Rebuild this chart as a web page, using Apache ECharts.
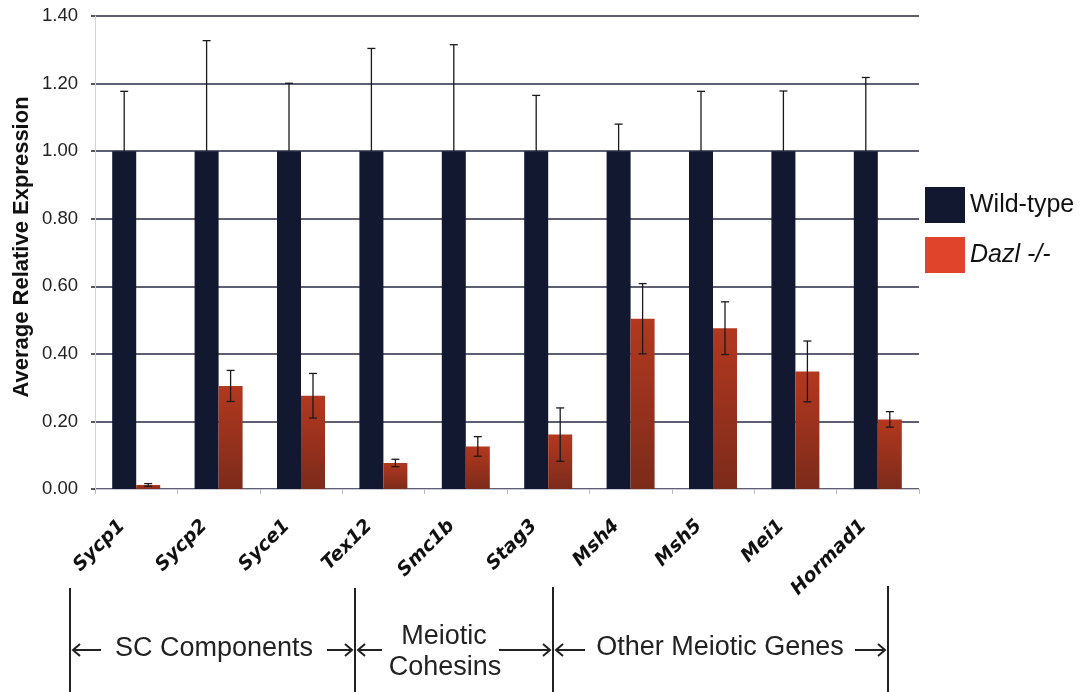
<!DOCTYPE html>
<html>
<head>
<meta charset="utf-8">
<script src="https://cdn.jsdelivr.net/npm/echarts@6/dist/echarts.min.js"></script>
<style>
  html, body { margin: 0; padding: 0; background: #ffffff; }
  #chart { width: 1080px; height: 692px; }
</style>
</head>
<body>
<div id="chart"></div>
<script>
// ---- data ----
const genes = ['Sycp1', 'Sycp2', 'Syce1', 'Tex12', 'Smc1b', 'Stag3', 'Msh4', 'Msh5', 'Mei1', 'Hormad1'];
const wildType = [1.00, 1.00, 1.00, 1.00, 1.00, 1.00, 1.00, 1.00, 1.00, 1.00];
const wildTypeErr = [0.177, 0.327, 0.201, 0.304, 0.315, 0.165, 0.080, 0.177, 0.178, 0.218];
const dazl = [0.012, 0.305, 0.276, 0.077, 0.126, 0.161, 0.504, 0.476, 0.348, 0.206];
const dazlErr = [0.004, 0.046, 0.066, 0.011, 0.029, 0.079, 0.104, 0.078, 0.090, 0.023];
const yTicks = [0, 0.2, 0.4, 0.6, 0.8, 1.0, 1.2, 1.4];
const seriesNames = ['Wild-type', 'Dazl -/-'];
const groupLabels = ['SC Components', 'Meiotic\nCohesins', 'Other Meiotic Genes'];

const chart = echarts.init(document.getElementById('chart'), null, { renderer: 'canvas' });

const BAR_W = 24;
function errSeries(vals, errs, offset, upperOnly) {
  return {
    type: 'custom',
    z: 10,
    silent: true,
    data: vals.map((v, i) => [i, v, errs[i]]),
    renderItem: function (params, api) {
      const i = api.value(0), v = api.value(1), e = api.value(2);
      const top = api.coord([i, v + e]);
      const bot = api.coord([i, upperOnly ? v : v - e]);
      const x = top[0] + offset;
      const cap = 4;
      const st = { stroke: '#1a1a1a', lineWidth: 1.3 };
      const children = [
        { type: 'line', shape: { x1: x, y1: top[1], x2: x, y2: bot[1] }, style: st },
        { type: 'line', shape: { x1: x - cap, y1: top[1], x2: x + cap, y2: top[1] }, style: st }
      ];
      if (!upperOnly) {
        children.push({ type: 'line', shape: { x1: x - cap, y1: bot[1], x2: x + cap, y2: bot[1] }, style: st });
      }
      return { type: 'group', children: children };
    }
  };
}

// annotation graphics (brackets below the category axis)
const ANN_Y = 650;
function arrow(xTail, xHead, y) {
  const dir = xHead > xTail ? 1 : -1;
  return [
    { type: 'line', shape: { x1: xTail, y1: y, x2: xHead, y2: y }, style: { stroke: '#222', lineWidth: 2 } },
    { type: 'polyline', shape: { points: [[xHead - dir * 7, y - 6], [xHead, y], [xHead - dir * 7, y + 6]] }, style: { stroke: '#222', lineWidth: 2, fill: null } }
  ];
}
const annFont = '27px "Liberation Sans", Arial, sans-serif';
const graphics = [
  { type: 'text', x: 22, y: 247, rotation: Math.PI / 2,
    style: { text: 'Average Relative Expression', font: 'bold 22px "Liberation Sans", Arial, sans-serif', fill: '#111', align: 'center', verticalAlign: 'middle' } },
  { type: 'line', shape: { x1: 70, y1: 588, x2: 70, y2: 692 }, style: { stroke: '#222', lineWidth: 2 } },
  { type: 'line', shape: { x1: 355, y1: 588, x2: 355, y2: 692 }, style: { stroke: '#222', lineWidth: 2 } },
  { type: 'line', shape: { x1: 553, y1: 587, x2: 553, y2: 692 }, style: { stroke: '#222', lineWidth: 2 } },
  { type: 'line', shape: { x1: 888, y1: 586, x2: 888, y2: 692 }, style: { stroke: '#222', lineWidth: 2 } },
  ...arrow(101, 73, ANN_Y),
  ...arrow(327, 352, ANN_Y),
  ...arrow(382, 358, ANN_Y),
  ...arrow(499, 550, ANN_Y),
  ...arrow(585, 556, ANN_Y),
  ...arrow(855, 885, ANN_Y),
  { type: 'text', x: 214, y: 649, style: { text: groupLabels[0], font: annFont, fill: '#222', align: 'center', verticalAlign: 'middle' } },
  { type: 'text', x: 444, y: 637, style: { text: groupLabels[1].split('\n')[0], font: annFont, fill: '#222', align: 'center', verticalAlign: 'middle' } },
  { type: 'text', x: 445, y: 668, style: { text: groupLabels[1].split('\n')[1], font: annFont, fill: '#222', align: 'center', verticalAlign: 'middle' } },
  { type: 'text', x: 720, y: 648, style: { text: groupLabels[2], font: annFont, fill: '#222', align: 'center', verticalAlign: 'middle' } }
];

const option = {
  animation: false,
  backgroundColor: '#ffffff',
  grid: { left: 95, right: 161, top: 16, bottom: 203, containLabel: false },
  legend: {
    orient: 'vertical',
    left: 925,
    top: 187,
    padding: 0,
    itemWidth: 40,
    itemHeight: 36,
    itemGap: 14,
    icon: 'rect',
    selectedMode: false,
    data: [
      { name: seriesNames[0], itemStyle: { color: '#111830' } },
      { name: seriesNames[1], itemStyle: { color: '#e0442a' } }
    ],
    formatter: function (name) { return name === seriesNames[1] ? '{i|' + name + '}' : '{n|' + name + '}'; },
    textStyle: {
      rich: {
        n: { fontSize: 25, fontFamily: '"Liberation Sans", Arial, sans-serif', color: '#111' },
        i: { fontSize: 25, fontFamily: '"Liberation Sans", Arial, sans-serif', fontStyle: 'italic', color: '#111' }
      }
    }
  },
  xAxis: {
    type: 'category',
    data: genes,
    axisLine: { show: true, lineStyle: { color: '#c9c9d6', width: 1 } },
    axisTick: { show: true, length: 5, lineStyle: { color: '#b8b8c4' } },
    axisLabel: {
      interval: 0,
      rotate: 45,
      margin: 20,
      padding: [0, 20, 0, 0],
      fontFamily: '"DejaVu Sans", Verdana, sans-serif',
      fontWeight: 'bold',
      fontStyle: 'italic',
      fontSize: 19,
      color: '#111'
    }
  },
  yAxis: {
    type: 'value',
    min: yTicks[0],
    max: yTicks[yTicks.length - 1],
    interval: 0.2,
    axisLine: { show: true, lineStyle: { color: '#d4d4e0', width: 1 } },
    axisTick: { show: true, length: 4, lineStyle: { color: '#222', width: 1.5 } },
    axisLabel: {
      margin: 17,
      fontFamily: '"Liberation Sans", Arial, sans-serif',
      fontSize: 18.5,
      color: '#222',
      formatter: function (v) { return v.toFixed(2); }
    },
    splitLine: { show: true, lineStyle: { color: '#2a2a44', width: 1.5 } }
  },
  series: [
    {
      name: seriesNames[0],
      type: 'bar',
      data: wildType,
      barWidth: BAR_W,
      barGap: '0%',
      itemStyle: { color: '#111830' }
    },
    {
      name: seriesNames[1],
      type: 'bar',
      data: dazl,
      barWidth: BAR_W,
      barGap: '0%',
      itemStyle: {
        color: {
          type: 'linear', x: 0, y: 0, x2: 0, y2: 1,
          colorStops: [{ offset: 0, color: '#b3381f' }, { offset: 1, color: '#7c2b1b' }]
        }
      }
    },
    errSeries(wildType, wildTypeErr, -BAR_W / 2, true),
    errSeries(dazl, dazlErr, BAR_W / 2, false)
  ],
  graphic: graphics
};

chart.setOption(option);
</script>
</body>
</html>
